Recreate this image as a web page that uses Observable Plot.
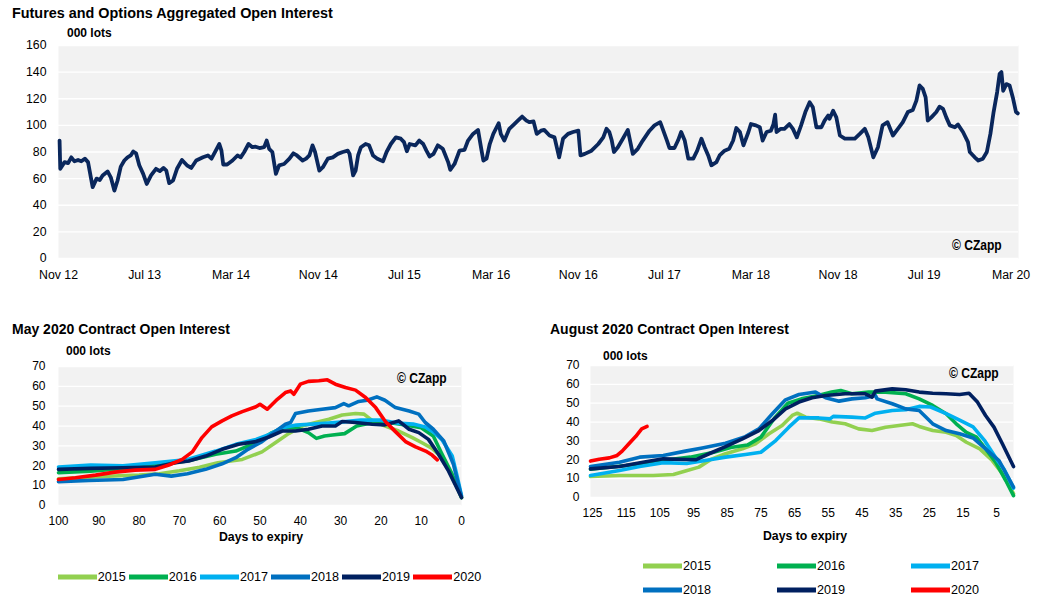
<!DOCTYPE html>
<html><head><meta charset="utf-8">
<script src="https://cdn.jsdelivr.net/npm/d3@7"></script>
<script src="https://cdn.jsdelivr.net/npm/@observablehq/plot@0.6"></script>
<style>
body{margin:0;background:#fff;font-family:"Liberation Sans",Arial,sans-serif;color:#000;}
#root{position:relative;width:1051px;height:606px;overflow:hidden;}
.t{position:absolute;white-space:nowrap;line-height:1;transform:translateY(-50%);}
.title{font-weight:bold;font-size:14px;}
.title.big{font-size:14.4px;}
.unit{font-weight:bold;font-size:12px;}
.axl{font-weight:bold;font-size:12.3px;transform:translate(-50%,-50%);}
.cz{font-weight:bold;font-size:14px;transform:translateY(-50%) scaleX(0.86);transform-origin:left center;}
.leg{font-size:12.6px;}
.sw{position:absolute;height:5px;width:39px;transform:translateY(-50%);}
svg{position:absolute;}
</style></head><body><div id="root"></div>
<script>
// ---------- DATA ----------
const openInterest = [
["2012-11-04",88.6],["2012-11-06",67.4],["2012-11-18",72.4],["2012-11-28",71.6],["2012-12-07",76],["2012-12-16",73],["2012-12-26",74],["2013-01-04",73],["2013-01-14",75],["2013-01-23",72.4],
["2013-02-05",53.6],["2013-02-16",60],["2013-02-25",59],["2013-03-05",62.4],["2013-03-19",65.4],["2013-03-28",61],["2013-04-07",51],["2013-04-16",58.6],["2013-04-25",69],["2013-05-05",73.6],
["2013-05-14",76],["2013-05-23",77.4],["2013-05-30",80.4],["2013-06-07",79],["2013-06-16",70],["2013-06-27",63.6],["2013-07-07",56],["2013-07-19",62.4],["2013-08-02",67.4],["2013-08-13",65.6],
["2013-08-23",68],["2013-08-31",66],["2013-09-08",56.6],["2013-09-19",58.6],["2013-09-30",67.4],["2013-10-14",74],["2013-10-28",70],["2013-11-09",68],["2013-11-23",73.6],["2013-12-12",76],
["2013-12-26",77.4],["2014-01-05",75],["2014-01-17",81],["2014-01-27",86],["2014-02-02",81],["2014-02-07",70.6],["2014-02-18",70.6],["2014-03-05",73.6],["2014-03-19",77.4],["2014-03-28",76],
["2014-04-07",80],["2014-04-19",86],["2014-04-30",83.6],["2014-05-09",84],["2014-05-20",83],["2014-06-02",83.6],["2014-06-09",88.6],["2014-06-16",82.4],["2014-06-25",80],["2014-07-05",63.6],
["2014-07-14",70],["2014-07-28",71],["2014-08-12",75],["2014-08-23",79],["2014-09-02",77.4],["2014-09-18",73.6],["2014-09-28",75],["2014-10-07",77.4],["2014-10-16",85],["2014-10-23",80],
["2014-11-04",66],["2014-11-14",68.6],["2014-11-28",75],["2014-12-12",76],["2014-12-26",78.6],["2015-01-09",80],["2015-01-23",81],["2015-01-28",78.6],["2015-02-07",62.4],["2015-02-14",66],
["2015-02-21",77.4],["2015-03-01",83.6],["2015-03-14",86],["2015-03-24",85],["2015-04-04",77.4],["2015-04-16",75],["2015-05-02",73],["2015-05-12",80],["2015-05-24",86],["2015-06-07",91],
["2015-06-21",90],["2015-06-30",87.4],["2015-07-08",80.6],["2015-07-16",86],["2015-08-01",85],["2015-08-12",88.6],["2015-08-23",86],["2015-09-01",81],["2015-09-10",76.6],["2015-09-21",78.6],
["2015-10-03",85],["2015-10-17",82.4],["2015-11-01",72.4],["2015-11-07",66.6],["2015-11-19",71],["2015-12-03",81],["2015-12-17",81.6],["2015-12-27",88.6],["2016-01-10",93.6],["2016-01-24",96.6],
["2016-02-03",81],["2016-02-08",73.6],["2016-02-17",75],["2016-02-26",86],["2016-03-07",93.6],["2016-03-22",101.6],["2016-03-28",93.6],["2016-04-07",88.6],["2016-04-21",97.4],["2016-05-05",101],
["2016-05-15",103.6],["2016-05-27",106.6],["2016-06-08",103.6],["2016-06-17",102.4],["2016-06-28",103],["2016-07-07",93.6],["2016-07-19",96],["2016-07-28",96.6],["2016-08-12",92.4],["2016-08-26",91],
["2016-09-08",76],["2016-09-19",90],["2016-10-03",93.6],["2016-10-17",95],["2016-11-01",96],["2016-11-07",77.4],["2016-11-19",78.6],["2016-12-08",81],["2016-12-27",86],["2017-01-10",91],
["2017-01-19",97.4],["2017-01-27",95],["2017-02-03",88.6],["2017-02-09",80],["2017-02-20",83.6],["2017-03-06",90],["2017-03-20",96.6],["2017-04-03",78.6],["2017-04-17",82.4],["2017-05-01",88.6],
["2017-05-20",96],["2017-06-03",100],["2017-06-19",102.4],["2017-06-26",97.4],["2017-07-08",88.6],["2017-07-15",83],["2017-07-29",83],["2017-08-08",88.6],["2017-08-17",95],["2017-08-27",88.6],
["2017-09-06",75],["2017-09-20",75],["2017-10-01",81],["2017-10-13",90],["2017-10-22",83.6],["2017-11-01",77.4],["2017-11-10",70],["2017-11-24",72.4],["2017-12-03",77.4],["2017-12-17",81],
["2017-12-30",82.4],["2018-01-10",88.6],["2018-01-19",98],["2018-01-29",95],["2018-02-08",85],["2018-02-22",95],["2018-03-01",101],["2018-03-15",100],["2018-03-26",98.6],["2018-04-03",88.6],
["2018-04-14",95],["2018-04-26",96],["2018-05-03",100.6],["2018-05-08",108],["2018-05-12",95],["2018-05-24",97.4],["2018-06-03",97.4],["2018-06-17",101],["2018-06-27",97.4],["2018-07-08",91],
["2018-07-20",100],["2018-08-01",110],["2018-08-13",117.4],["2018-08-22",113.6],["2018-09-01",98.6],["2018-09-15",98.6],["2018-09-24",103.6],["2018-10-04",107.4],["2018-10-08",105],["2018-10-18",111],
["2018-10-27",106],["2018-11-06",92.4],["2018-11-20",90],["2018-12-04",90],["2018-12-18",90],["2019-01-01",93.6],["2019-01-15",97.4],["2019-01-25",91],["2019-02-08",76],["2019-02-21",83.6],
["2019-03-06",100],["2019-03-20",102.4],["2019-04-04",92.4],["2019-04-18",97.4],["2019-05-02",102.4],["2019-05-16",110],["2019-05-30",111.6],["2019-06-09",118.6],["2019-06-18",130],["2019-06-27",127.4],
["2019-07-05",121],["2019-07-11",103.6],["2019-07-21",106],["2019-08-04",110],["2019-08-13",114],["2019-08-23",112.4],["2019-09-01",106],["2019-09-11",100],["2019-09-25",98.6],["2019-10-04",100.6],
["2019-10-18",95],["2019-11-01",87.4],["2019-11-06",80],["2019-11-20",76],["2019-11-30",73.6],["2019-12-13",75],["2019-12-24",80],["2020-01-03",93.6],["2020-01-12",110],["2020-01-22",125],
["2020-01-29",138.7],["2020-02-03",140],["2020-02-08",126],["2020-02-17",131],["2020-02-26",130],["2020-03-06",121],["2020-03-15",110],["2020-03-20",109]
];
const topTickDates = ["2012-11-01","2013-07-01","2014-03-01","2014-11-01","2015-07-01","2016-03-01","2016-11-01","2017-07-01","2018-03-01","2018-11-01","2019-07-01","2020-03-01"];
const topYTicks = [0,20,40,60,80,100,120,140,160];

const years = ["2015","2016","2017","2018","2019","2020"];
const yearColors = ["#92D050","#00B050","#00B0F0","#0070C0","#002060","#FF0000"];

// May 2020 contract: [days to expiry, 000 lots]
const may2015 = [[100,13.5],[95,14],[90,14.5],[85,15],[80,15.3],[75,16],[70,17.5],[65,19.3],[60.5,21.5],[54.4,23.2],[49.5,27],[46.2,31.6],[42.9,36.2],[39.5,40],[36.2,41.8],[32.9,43.4],[29.6,45.6],[26.3,46.3],[24.2,46],[22.2,42.9],[18.9,40],[15.6,37.5],[12.2,34.2],[9.8,31.6],[7.3,28.8],[4.8,24.1],[2.3,14.8],[0,4]];
const may2016 = [[100,16.5],[92,17.3],[84,18.7],[76,20.4],[68,22.4],[61,25.8],[56,27.4],[51,31.6],[47,36.7],[44,39.2],[41,39.2],[38,36.7],[36,33.8],[34,35],[32,35.5],[29,36.2],[26,40],[22,41.8],[18,41.8],[14,40.6],[10,39.2],[7,35],[5,26.6],[2.3,15.7],[0,4]];
const may2017 = [[100,19.4],[92,20.4],[84,20],[76,21.5],[68,23.2],[61,27.4],[56,30.8],[51,33.3],[48,35.5],[44.5,39.2],[41,40.5],[37,41],[33,41.5],[30,42],[25,43],[20,43],[16,41.5],[12,41],[9,39.5],[7,37],[4.8,33],[2.3,25],[1,14],[0,5]];
const may2018 = [[100,12],[92.5,12.6],[84,13.1],[76,15.7],[72,14.8],[68,16],[63.5,18.2],[59.4,21],[56,24.1],[53,28.3],[49.5,32.2],[46,37.5],[43.7,40.9],[42.4,41.8],[41.2,46.3],[38,47.6],[34.6,48.5],[31.3,49.3],[29.2,51.3],[28,50.2],[25.5,52.4],[23.4,53],[21,54.7],[19,53],[16.4,49.3],[13,47.6],[10.6,46],[9,41.8],[7,38.4],[4.4,32.5],[2,20.7],[0,4.5]];
const may2019 = [[100,18.2],[92,18.7],[84,19],[76,19.4],[71,21.5],[67.7,22.4],[63.5,24.9],[59.4,28.3],[55.3,30.8],[51,32.2],[47.8,34.5],[44.5,37.5],[41.2,37.5],[38,38.4],[34.6,40],[31.3,40],[29.6,42.3],[26.3,41.8],[22.2,40.9],[19,40.6],[15.6,42.6],[13,38.4],[10.6,36.7],[8.2,33.3],[5.7,25.8],[3.2,17.3],[0,4]];
const may2020 = [[100,13.1],[95.8,14],[90.8,15.3],[86,16.8],[81,17.8],[76,18.2],[72.6,20.4],[69.3,23.2],[66.8,27],[64.4,34.2],[62,39.6],[59.4,42.6],[57,45.1],[54.4,47.3],[51,49.7],[50,51],[48.2,48.5],[45.7,53.5],[43.7,56.9],[42.4,57.7],[41.6,56],[40,61.1],[38,62.5],[35.4,62.8],[33.3,63.3],[31.3,61.1],[28.8,59.4],[26.3,58.1],[23.8,54.4],[21.3,49.3],[18.9,42.3],[16.4,37.2],[13.9,32.2],[11.4,29.5],[8.9,27.4],[7.3,25.4],[6,23]];

// August 2020 contract
const aug2015 = [[125.6,11.1],[117,11.7],[107,11.7],[101,12.2],[97.4,14],[93.4,16.1],[89.5,20.5],[85.5,23.2],[80.5,25.8],[76.6,28.5],[72.6,33.8],[68.7,38.2],[65.7,43.5],[64.2,44.7],[61.7,42.6],[57.8,41.7],[53.8,40],[50,39.1],[46,36.4],[42,35.5],[38,37.3],[34,38.2],[30,39.1],[28,37.7],[24,35.5],[20,34.6],[17,32.9],[14,29.3],[10,25.8],[6.3,19.6],[3.3,12.6],[0,2]];
const aug2016 = [[125.6,15],[115,17],[105,19.5],[96,21.4],[89,24],[84,26.5],[79,27.8],[75,32],[71,42],[67,50],[63,52.3],[58,54.1],[54,55.9],[51.3,56.7],[48,55],[43,55.9],[38,55.9],[32,55],[28,52.3],[24,48.8],[20,44.4],[17,39.1],[14,34.6],[11,32],[8.3,25.8],[5.3,18.7],[2.3,9],[0,1]];
const aug2017 = [[125.6,11.7],[117,14.3],[111,16.4],[104,18.5],[97,18],[92,19.5],[85.5,21.4],[79.6,22.8],[75,24],[70.6,30.2],[66.7,37.3],[63.7,42.2],[57.8,42.2],[54.5,41.7],[53.5,43],[48,42.6],[44,42.2],[41,44.7],[36,46.1],[32,46.5],[28,48.3],[24.6,48],[20,44.5],[16,41],[12,37.5],[8.5,30],[4.5,19],[2.8,15],[0,5]];
const aug2018 = [[125.6,16.4],[117,18.7],[111,21.4],[104,22.3],[97.4,24.6],[92.4,26.3],[85.5,28.8],[79.6,32.3],[75.6,36.4],[71.6,44.4],[67.7,51.8],[63.7,54.6],[58.8,55.9],[55.8,52.9],[51.8,51.1],[48,52.3],[44,52.9],[41,54.1],[40.5,52.3],[36,49.7],[32,47],[28,46.1],[24,39.1],[20,35.5],[16,33.8],[12,31.6],[8.3,25.8],[4.3,19.6],[0,5.5]];
const aug2019 = [[125.6,15.2],[117,16.4],[110,18.7],[104,20.5],[94.4,20],[90.4,23.2],[85.5,27],[80.5,31.1],[75.6,35.5],[71.6,40.8],[67.7,47],[63.7,50.6],[59.8,52.9],[55.8,54.1],[50,55],[44,55],[42,53.2],[41,56.4],[36,57.6],[32,57.1],[28,55.9],[24,55.3],[20,55],[16,54.6],[13.2,55.3],[10.7,50.6],[8.3,43.5],[5.8,37.3],[3.3,28.5],[0,16.4]];
const aug2020 = [[125.6,19.3],[123,20.3],[120,21],[117.7,22.3],[116.2,24.6],[114.2,28.5],[112.2,32.3],[110.4,36.4],[108.8,37.7]];

const mayXTicks = [100,90,80,70,60,50,40,30,20,10,0];
const augXTicks = [125,115,105,95,85,75,65,55,45,35,25,15,5];
const smallYTicks = [0,10,20,30,40,50,60,70];

// ---------- DRAW ----------
const root = document.getElementById("root");
const FONT = '"Liberation Sans", Arial, sans-serif';
const BG = "#f2f2f2";

function addText(cls, txt, left, top){
  const d = document.createElement("div");
  d.className = "t " + cls; d.textContent = txt;
  d.style.left = left + "px"; d.style.top = top + "px";
  root.appendChild(d); return d;
}
function place(svg, left, top){ svg.style.left = left + "px"; svg.style.top = top + "px"; root.appendChild(svg); }

// Top chart
const topRows = openInterest.map(([d,v]) => ({date: new Date(d), value: v}));
const topPlot = Plot.plot({
  width: 1051, height: 290,
  marginLeft: 58, marginRight: 33, marginTop: 45, marginBottom: 32,
  x: {type: "utc", domain: [new Date("2012-11-01"), new Date("2020-03-22")]},
  y: {domain: [0,160]},
  style: {fontFamily: FONT, fontSize: "12.3px", color: "#000", background: "transparent", overflow: "visible"},
  marks: [
    Plot.frame({fill: BG, stroke: "none"}),
    Plot.gridY(topYTicks, {stroke: "#fff", strokeOpacity: 1, strokeWidth: 1.3}),
    Plot.axisY(topYTicks, {tickSize: 0, tickPadding: 12, label: null}),
    Plot.axisX(topTickDates.map(d => new Date(d)), {tickSize: 0, tickPadding: 12, label: null, tickFormat: d3.utcFormat("%b %y")}),
    Plot.line(topRows, {x: "date", y: "value", stroke: "#0a275c", strokeWidth: 3.8, strokeLinejoin: "round", strokeLinecap: "round"})
  ]
});
place(topPlot, 0, 0);

function smallChart(series, opts){
  const marks = [
    Plot.frame({fill: BG, stroke: "none"}),
    Plot.gridY(smallYTicks, {stroke: "#fff", strokeOpacity: 1, strokeWidth: 1.3}),
    Plot.axisY(smallYTicks, {tickSize: 0, tickPadding: opts.yPad, label: null}),
    Plot.axisX(opts.xTicks, {tickSize: 0, tickPadding: opts.xPad, label: null})
  ];
  series.forEach((s, i) => {
    marks.push(Plot.line(s, {x: d => d[0], y: d => d[1], stroke: yearColors[i], strokeWidth: 3.6, strokeLinejoin: "round", strokeLinecap: "round"}));
  });
  return Plot.plot({
    width: opts.width, height: 316,
    marginLeft: opts.ml, marginRight: opts.mr, marginTop: opts.mt, marginBottom: opts.mb,
    x: {domain: opts.xDomain},
    y: {domain: [0,70]},
    style: {fontFamily: FONT, fontSize: "12px", color: "#000", background: "transparent", overflow: "visible"},
    marks
  });
}

const mayPlot = smallChart([may2015,may2016,may2017,may2018,may2019,may2020],
  {width: 525, ml: 58, mr: 64, mt: 76, mb: 101, xDomain: [100,0], xTicks: mayXTicks, xPad: 10.5, yPad: 13});
place(mayPlot, 0, 290);
const augPlot = smallChart([aug2015,aug2016,aug2017,aug2018,aug2019,aug2020],
  {width: 526, ml: 65, mr: 38, mt: 75, mb: 109, xDomain: [125.6,0], xTicks: augXTicks, xPad: 11, yPad: 11});
place(augPlot, 525, 290);

// Texts
addText("title big", "Futures and Options Aggregated Open Interest", 12, 12.5);
addText("unit", "000 lots", 67, 32.8);
addText("cz", "© CZapp", 952, 244.5);

addText("title", "May 2020 Contract Open Interest", 12, 328.5);
addText("unit", "000 lots", 66, 350.7);
addText("cz", "© CZapp", 397, 377.5);
addText("axl", "Days to expiry", 261, 536.5);

addText("title", "August 2020 Contract Open Interest", 550, 328.5);
addText("unit", "000 lots", 603, 356);
addText("cz", "© CZapp", 949, 372.5);
addText("axl", "Days to expiry", 805, 535.5);

// Legends
function legendItem(i, x, y){
  const s = document.createElement("div");
  s.className = "sw"; s.style.left = x + "px"; s.style.top = y + "px"; s.style.background = yearColors[i];
  root.appendChild(s);
  addText("leg", years[i], x + 40, y);
}
years.forEach((y, i) => legendItem(i, 57.7 + i * 71.1, 577));
years.forEach((y, i) => legendItem(i, [643, 777, 911][i % 3], i < 3 ? 566.2 : 589.5));
</script></body></html>
